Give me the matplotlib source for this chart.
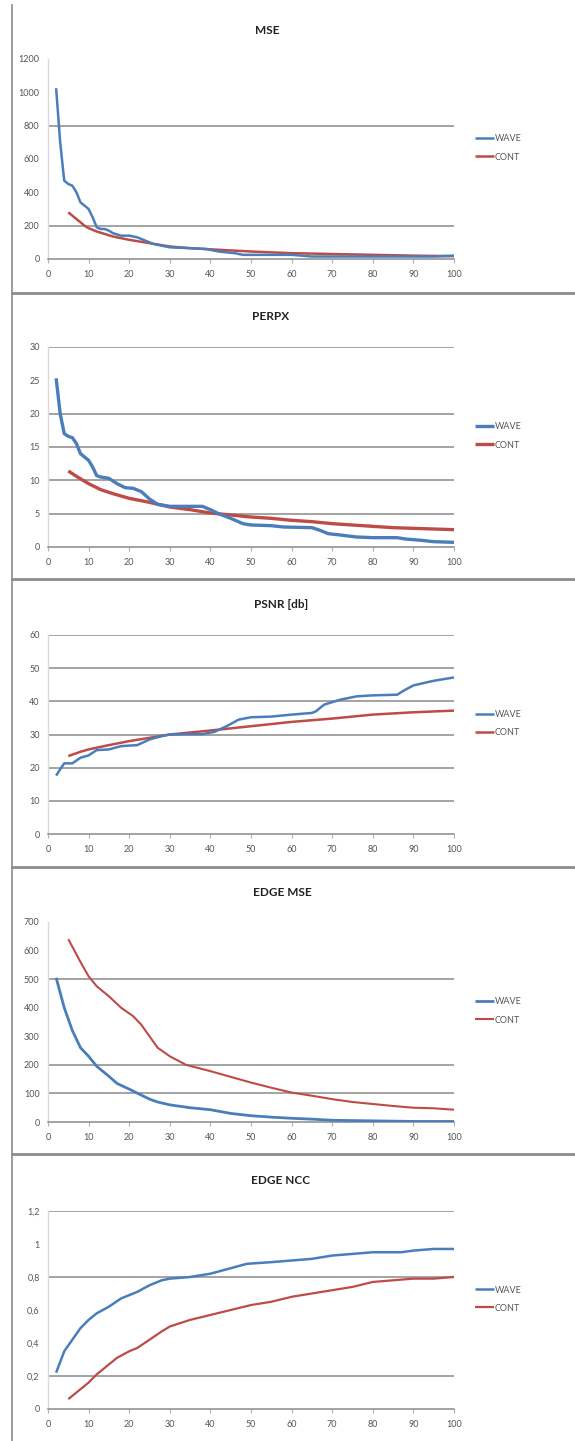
import matplotlib
matplotlib.use('Agg')
import matplotlib.pyplot as plt
from matplotlib.lines import Line2D

# ---- data ----
titles = ['MSE', 'PERPX', 'PSNR [db]', 'EDGE MSE', 'EDGE NCC']

mse_wave_x = [2, 3, 4, 5, 6, 7, 8, 9, 10, 11, 12, 13, 14, 15, 16, 18, 20, 22, 24, 26, 28, 30,
              35, 39, 42, 46, 48, 55, 60, 65, 70, 80, 90, 95, 100]
mse_wave_y = [1025, 700, 470, 450, 440, 400, 340, 320, 300, 250, 190, 180, 180, 170, 155, 140,
              140, 130, 110, 90, 80, 70, 65, 60, 45, 35, 25, 25, 25, 15, 15, 15, 15, 15, 20]
mse_cont_x = [5, 7, 9, 10, 12, 14, 16, 20, 25, 30, 35, 40, 50, 60, 70, 80, 90, 100]
mse_cont_y = [280, 240, 200, 185, 165, 150, 135, 115, 95, 75, 65, 58, 45, 35, 30, 25, 20, 17]

perpx_wave_x = [2, 3, 4, 5, 6, 7, 8, 9, 10, 11, 12, 13, 15, 17, 19, 21, 23, 25, 27, 30, 35, 38,
                40, 42, 45, 48, 50, 55, 58, 65, 67, 69, 72, 76, 80, 86, 88, 92, 95, 100]
perpx_wave_y = [25.3, 20.0, 17.0, 16.6, 16.4, 15.5, 14.0, 13.5, 13.0, 12.0, 10.7, 10.5, 10.3,
                9.5, 8.9, 8.8, 8.3, 7.2, 6.4, 6.1, 6.1, 6.1, 5.6, 5.0, 4.3, 3.5, 3.3, 3.2, 3.0,
                2.9, 2.5, 2.0, 1.8, 1.5, 1.4, 1.4, 1.2, 1.0, 0.8, 0.7]
perpx_cont_x = [5, 7, 10, 13, 16, 20, 25, 30, 35, 40, 45, 50, 55, 60, 65, 70, 75, 80, 85, 90, 95, 100]
perpx_cont_y = [11.4, 10.6, 9.5, 8.6, 8.0, 7.3, 6.7, 6.0, 5.6, 5.1, 4.8, 4.5, 4.3, 4.0, 3.8,
                3.5, 3.3, 3.1, 2.9, 2.8, 2.7, 2.6]

psnr_wave_x = [2, 3, 4, 6, 8, 10, 12, 15, 18, 22, 25, 28, 30, 35, 38, 41, 44, 47, 50, 55, 60,
               65, 66, 68, 72, 76, 80, 86, 88, 90, 95, 100]
psnr_wave_y = [17.6, 19.5, 21.3, 21.3, 23.0, 23.7, 25.3, 25.5, 26.5, 26.8, 28.5, 29.5, 30.0,
               30.1, 30.1, 30.8, 32.5, 34.5, 35.2, 35.4, 36.0, 36.5, 37.0, 39.0, 40.5, 41.5,
               41.8, 42.0, 43.5, 44.8, 46.2, 47.2]
psnr_cont_x = [5, 8, 10, 15, 20, 25, 30, 40, 50, 60, 70, 80, 90, 100]
psnr_cont_y = [23.5, 24.8, 25.5, 26.8, 28.0, 29.0, 30.0, 31.2, 32.5, 33.8, 34.8, 36.0, 36.7, 37.2]

emse_wave_x = [2, 4, 6, 8, 10, 12, 15, 17, 20, 25, 27, 30, 35, 40, 45, 50, 55, 60, 65, 70, 80, 90, 100]
emse_wave_y = [505, 400, 320, 260, 230, 195, 160, 135, 115, 80, 70, 60, 50, 43, 30, 22, 17, 13,
               10, 6, 4, 2, 2]
emse_cont_x = [5, 8, 10, 12, 15, 18, 21, 23, 25, 27, 30, 34, 40, 45, 50, 55, 60, 65, 70, 75,
               80, 85, 90, 95, 100]
emse_cont_y = [640, 560, 510, 475, 440, 400, 370, 340, 300, 260, 230, 200, 178, 158, 138, 120,
               103, 92, 80, 70, 63, 56, 50, 48, 43]

ncc_wave_x = [2, 4, 6, 8, 10, 12, 15, 18, 20, 22, 25, 28, 30, 35, 40, 43, 46, 49, 55, 60, 65,
              70, 75, 80, 87, 90, 95, 100]
ncc_wave_y = [0.22, 0.35, 0.42, 0.49, 0.54, 0.58, 0.62, 0.67, 0.69, 0.71, 0.75, 0.78, 0.79,
              0.80, 0.82, 0.84, 0.86, 0.88, 0.89, 0.90, 0.91, 0.93, 0.94, 0.95, 0.95, 0.96,
              0.97, 0.97]
ncc_cont_x = [5, 8, 10, 12, 15, 17, 20, 22, 25, 28, 30, 35, 40, 45, 50, 55, 60, 65, 70, 75, 80,
              85, 90, 95, 100]
ncc_cont_y = [0.06, 0.12, 0.16, 0.21, 0.27, 0.31, 0.35, 0.37, 0.42, 0.47, 0.50, 0.54, 0.57,
              0.60, 0.63, 0.65, 0.68, 0.70, 0.72, 0.74, 0.77, 0.78, 0.79, 0.79, 0.80]

yticks = [[0, 200, 400, 600, 800, 1000, 1200],
          [0, 5, 10, 15, 20, 25, 30],
          [0, 10, 20, 30, 40, 50, 60],
          [0, 100, 200, 300, 400, 500, 600, 700],
          [0, 0.2, 0.4, 0.6, 0.8, 1.0, 1.2]]
ytick_labels = [['0', '200', '400', '600', '800', '1000', '1200'],
                ['0', '5', '10', '15', '20', '25', '30'],
                ['0', '10', '20', '30', '40', '50', '60'],
                ['0', '100', '200', '300', '400', '500', '600', '700'],
                ['0', '0,2', '0,4', '0,6', '0,8', '1', '1,2']]
# gridlines that show up in the reference
grid_vals = [[200, 800], [5, 10, 15, 20, 30], [10, 20, 30, 40, 50, 60],
             [100, 200, 500], [0.2, 0.8, 1.2]]
xticks = list(range(0, 101, 10))

series = [(mse_wave_x, mse_wave_y, mse_cont_x, mse_cont_y),
          (perpx_wave_x, perpx_wave_y, perpx_cont_x, perpx_cont_y),
          (psnr_wave_x, psnr_wave_y, psnr_cont_x, psnr_cont_y),
          (emse_wave_x, emse_wave_y, emse_cont_x, emse_cont_y),
          (ncc_wave_x, ncc_wave_y, ncc_cont_x, ncc_cont_y)]

# ---- layout (pixels) ----
W, H = 575, 1441
blue = '#4a7ebb'
red = '#be4b48'
font = ['Lato', 'DejaVu Sans']
ax_left, ax_right = 48, 454
ax_tops = [59, 347, 635, 922, 1211]
ax_bots = [259, 547, 834, 1122, 1409]
title_y = [30, 317, 604, 892, 1180]
title_x = [267, 271, 281, 282, 281]
seps = [293, 579, 867, 1154]
line_w = [(1.8, 1.8), (2.4, 2.4), (1.8, 1.8), (2.0, 1.5), (1.8, 1.6)]

plt.rcParams['font.family'] = font
fig = plt.figure(figsize=(W / 100, H / 100), dpi=100)
fig.patch.set_facecolor('white')

for i in range(5):
    wx, wy, cx, cy = series[i]
    top, bot = ax_tops[i], ax_bots[i]
    ax = fig.add_axes([ax_left / W, 1 - bot / H, (ax_right - ax_left) / W, (bot - top) / H])
    for g in grid_vals[i]:
        ax.axhline(g, color='#8a8a8a', lw=1.1, zorder=1)
    lw_w, lw_c = line_w[i]
    ax.plot(wx, wy, color=blue, lw=lw_w, label='WAVE', zorder=3, solid_capstyle='butt')
    ax.plot(cx, cy, color=red, lw=lw_c, label='CONT', zorder=2, solid_capstyle='butt')
    ax.set_xlim(0, 100)
    ax.set_ylim(0, yticks[i][-1])
    ax.set_xticks(xticks)
    ax.set_xticklabels([str(t) for t in xticks])
    ax.set_yticks(yticks[i])
    ax.set_yticklabels(ytick_labels[i])
    for s in ['top', 'right']:
        ax.spines[s].set_visible(False)
    ax.spines['left'].set_color('#d9d9d9')
    ax.spines['left'].set_linewidth(1.0)
    ax.spines['bottom'].set_color('#8a8a8a')
    ax.spines['bottom'].set_linewidth(1.1)
    ax.tick_params(axis='x', direction='out', length=3, width=0.8, color='#b0b0b0',
                   labelsize=6.5, labelcolor='#555555', pad=5)
    ax.tick_params(axis='y', length=0, labelsize=6.5, labelcolor='#555555', pad=6)
    ax.set_facecolor('none')
    ax.legend(loc='center left', bbox_to_anchor=(1.052, 0.555), frameon=False,
              fontsize=6.5, handlelength=2.1, handletextpad=0.1, labelspacing=1.0,
              borderpad=0, borderaxespad=0, labelcolor='#555555')
    fig.text(title_x[i] / W, 1 - title_y[i] / H, titles[i], ha='center', va='center',
             fontsize=8.5, fontweight='bold', color='#222222')

# panel frame lines
fig.add_artist(Line2D([12 / W, 12 / W], [1 - 5 / H, 0], color='#8c8c8c', lw=1.2))
for y in seps:
    fig.add_artist(Line2D([12 / W, 1], [1 - y / H, 1 - y / H], color='#8c8c8c', lw=2))

fig.savefig('out.png', dpi=100)
